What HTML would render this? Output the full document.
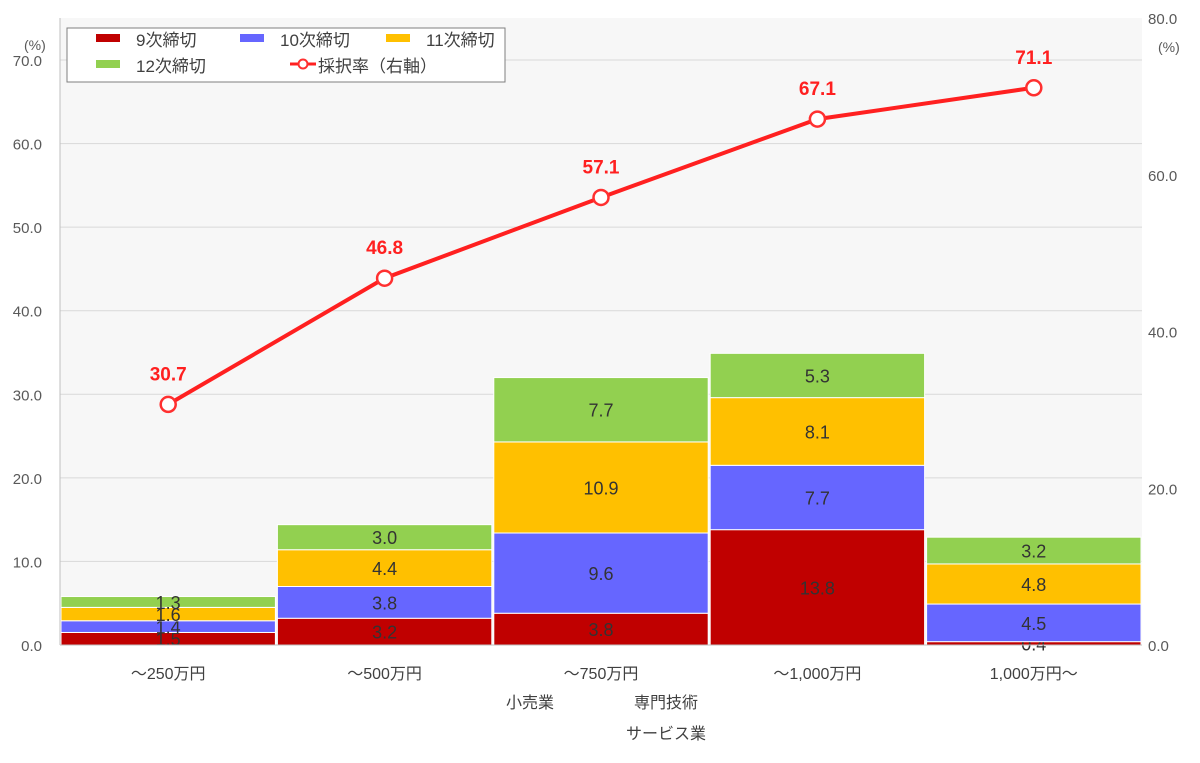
<!DOCTYPE html>
<html><head><meta charset="utf-8"><style>
body{margin:0;background:#fff;}
svg{display:block;font-family:"Liberation Sans","Noto Sans CJK JP",sans-serif;}
</style></head><body>
<svg id="c" width="1200" height="763" xmlns="http://www.w3.org/2000/svg"></svg>
<script>
const categories=["～250万円","～500万円","～750万円","～1,000万円","1,000万円～"];
const s9=[1.5,3.2,3.8,13.8,0.4];
const s10=[1.4,3.8,9.6,7.7,4.5];
const s11=[1.6,4.4,10.9,8.1,4.8];
const s12=[1.3,3.0,7.7,5.3,3.2];
const rate=[30.7,46.8,57.1,67.1,71.1];
const leftTicks=["0.0","10.0","20.0","30.0","40.0","50.0","60.0","70.0"];
const rightTicks=["0.0","20.0","40.0","60.0","80.0"];
const seriesNames=["9次締切","10次締切","11次締切","12次締切"];
const colors=["#c00000","#6666ff","#ffc000","#92d050"];
const svg=document.getElementById('c');const NS="http://www.w3.org/2000/svg";
function el(t,a,txt){const e=document.createElementNS(NS,t);for(const k in a)e.setAttribute(k,a[k]);if(txt!==undefined)e.textContent=txt;svg.appendChild(e);return e;}
const X0=60,X1=1142,Y0=645;
const yL=v=>Y0-v*(645-60)/70;
const yR=v=>Y0-v*(645-18)/80;
const bw=(X1-X0)/categories.length;
const xC=i=>X0+bw*(i+0.5);
let r=el('rect',{x:X0,y:18,width:X1-X0,height:Y0-18,fill:'#f7f7f7'});

leftTicks.forEach(t=>{const v=parseFloat(t);const y=yL(v);
 const g=el('line',{x1:X0,x2:X1,y1:y,y2:y,stroke:'#d9d9d9','stroke-width':1});
 const l=el('text',{x:42,y:y+6,'text-anchor':'end','font-size':15,fill:'#595959'},t);});
rightTicks.forEach(t=>{const y=yR(parseFloat(t));
 const l=el('text',{x:1148,y:y+6,'font-size':15,fill:'#595959'},t);});
let a=el('text',{x:24,y:50,'font-size':14,fill:'#595959'},'(%)');
a=el('text',{x:1158,y:52,'font-size':14,fill:'#595959'},'(%)');
const series=[s9,s10,s11,s12];
categories.forEach((c,i)=>{let acc=0;
 series.forEach((s,k)=>{const v=s[i];const yt=yL(acc+v),yb=yL(acc);
  const b=el('rect',{x:X0+bw*i+1,y:yt,width:bw-2,height:yb-yt,fill:colors[k],stroke:'#fff','stroke-width':1});
  
  const t=el('text',{x:xC(i),y:(yt+yb)/2+7,'text-anchor':'middle','font-size':18,fill:'#333'},v.toFixed(1));
  
  acc+=v;});
 const t=el('text',{x:xC(i),y:679,'text-anchor':'middle','font-size':16,fill:'#404040'},c);
 });
let ax=el('line',{x1:X0,x2:X0,y1:18,y2:Y0,stroke:'#bfbfbf'});
ax=el('line',{x1:X0,x2:X1,y1:Y0,y2:Y0,stroke:'#bfbfbf'});
let t=el('text',{x:530,y:708,'text-anchor':'middle','font-size':16,fill:'#404040'},'小売業');
t=el('text',{x:666,y:708,'text-anchor':'middle','font-size':16,fill:'#404040'},'専門技術');
t=el('text',{x:666,y:739,'text-anchor':'middle','font-size':16,fill:'#404040'},'サービス業');
const pts=rate.map((v,i)=>xC(i)+','+yR(v)).join(' ');
const pl=el('polyline',{points:pts,fill:'none',stroke:'#ff2020','stroke-width':4});
rate.forEach((v,i)=>{const p=el('circle',{cx:xC(i),cy:yR(v),r:7.5,fill:'#fff',stroke:'#ff3030','stroke-width':2.5});
 
 const l=el('text',{x:xC(i),y:yR(v)-24,'text-anchor':'middle','font-size':19,'font-weight':'bold',fill:'#ff2020'},v.toFixed(1));
 });
const lg=el('rect',{x:67,y:28,width:438,height:54,fill:'#fff',stroke:'#7f7f7f'});
const lpos=[[74,46],[218,46],[364,46],[74,72]];
seriesNames.forEach((n,k)=>{const [x,y]=lpos[k];
 const s=el('rect',{x:x+22,y:y-12,width:24,height:8,fill:colors[k]});
 const l=el('text',{x:x+62,y:y+0,'font-size':17,fill:'#404040'},n);});
let ll=el('line',{x1:290,x2:316,y1:64,y2:64,stroke:'#ff2020','stroke-width':3});
ll=el('circle',{cx:303,cy:64,r:4.5,fill:'#fff',stroke:'#ff3030','stroke-width':2});
t=el('text',{x:318,y:72,'font-size':17,fill:'#404040'},'採択率（右軸）');
</script>
</body></html>
